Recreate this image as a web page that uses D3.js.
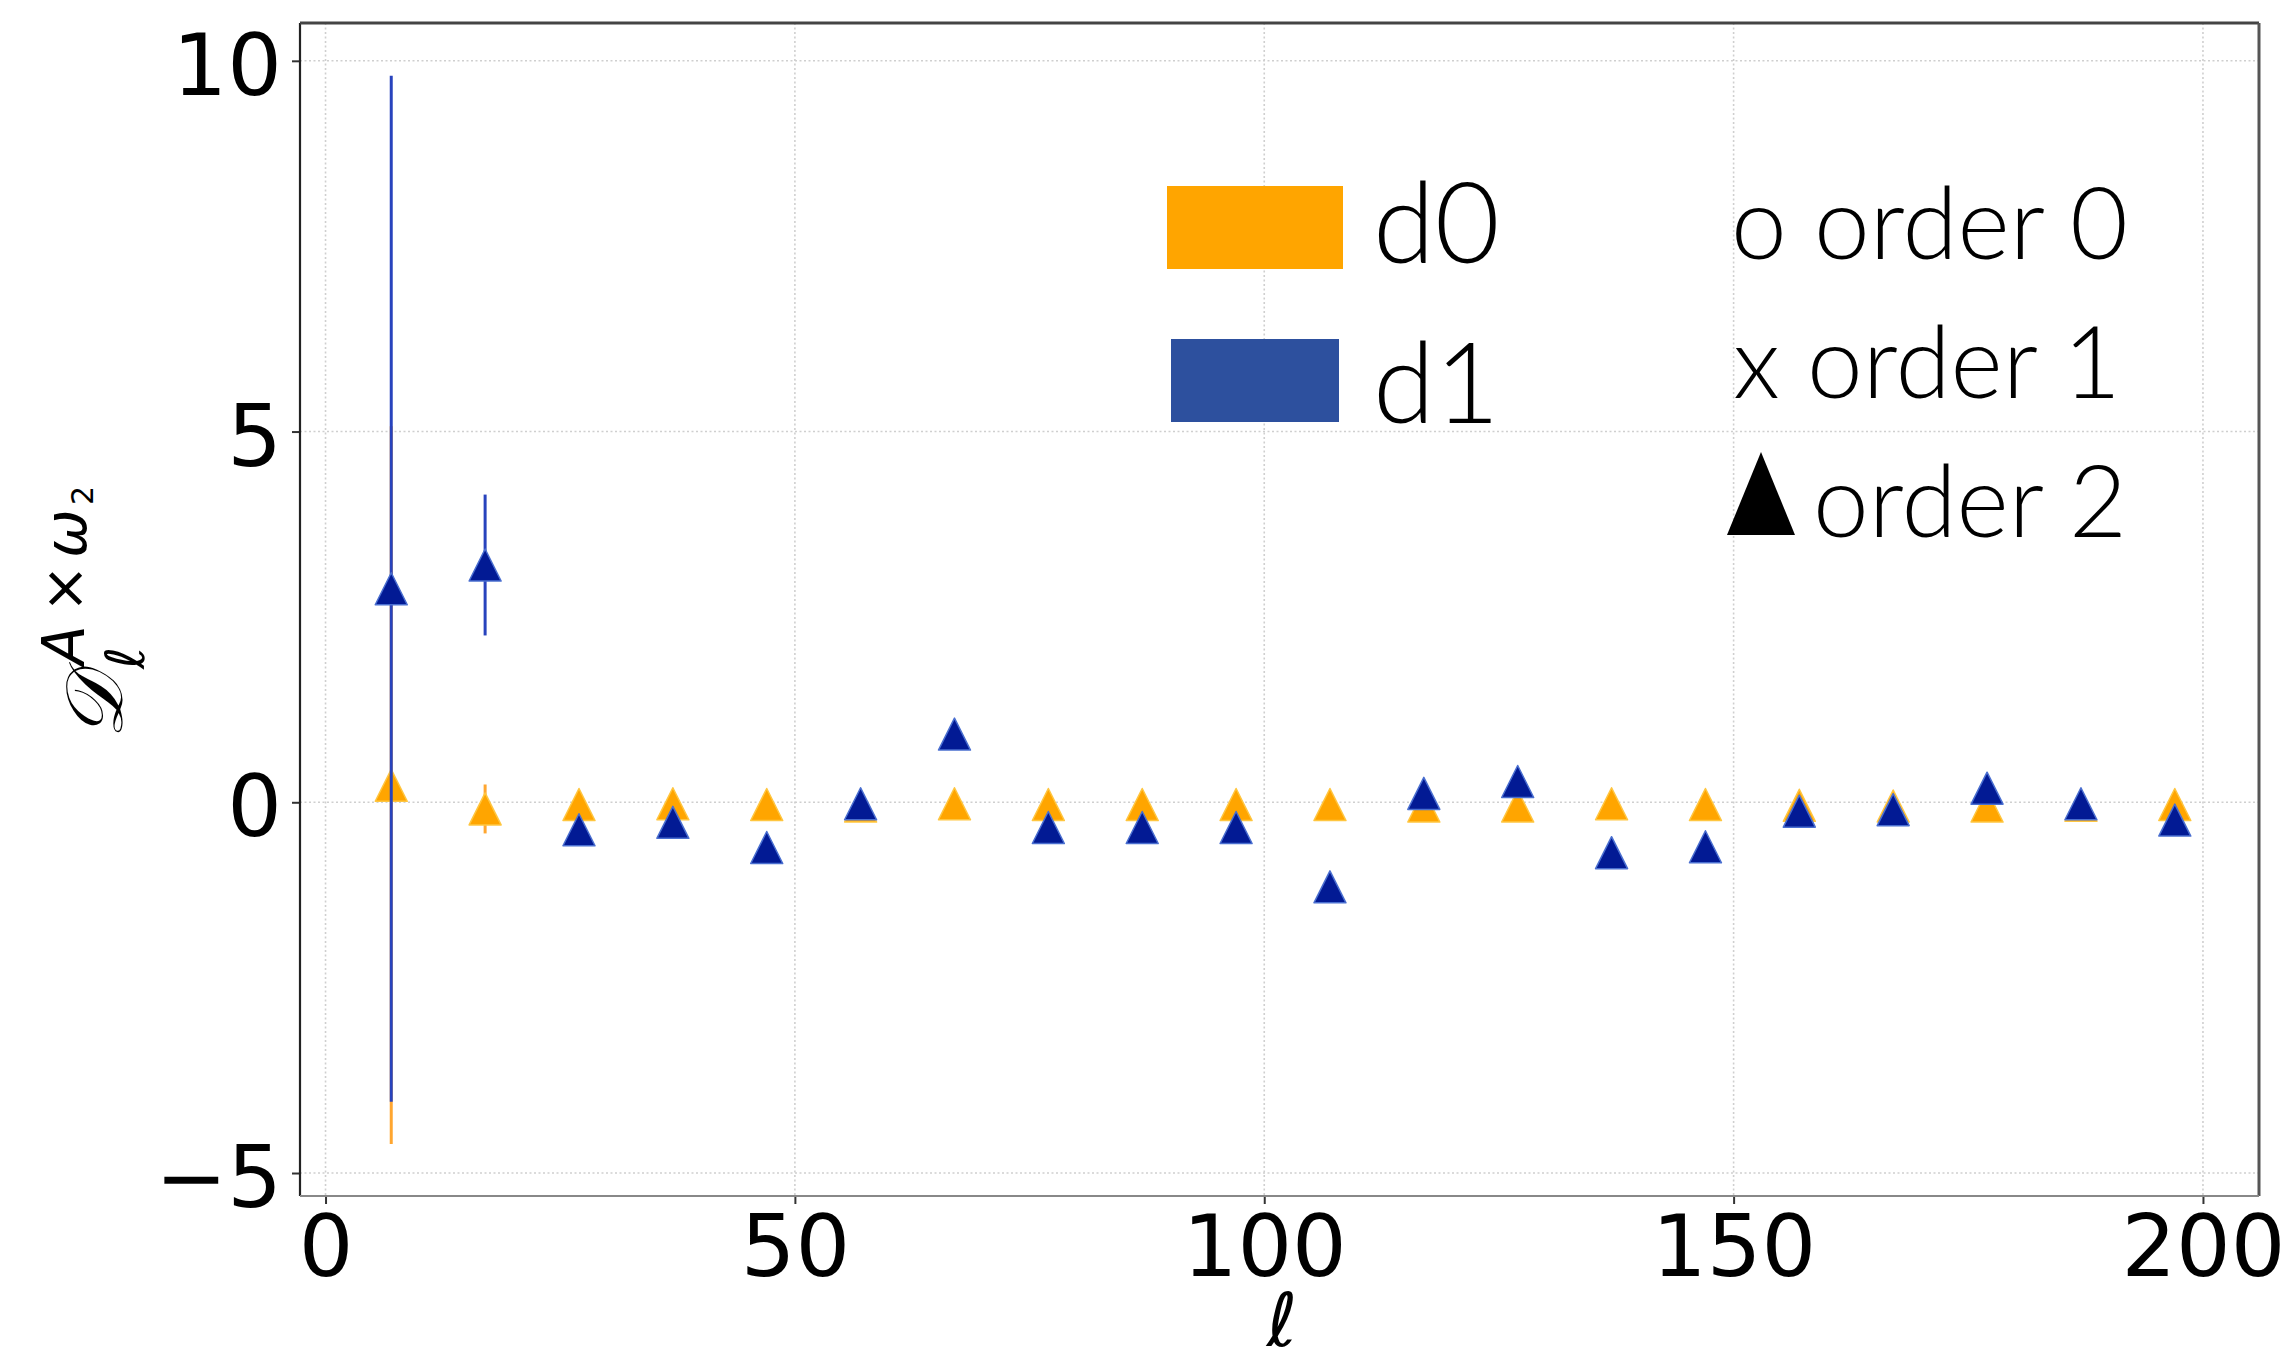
<!DOCTYPE html>
<html>
<head>
<meta charset="utf-8">
<script src="https://cdn.jsdelivr.net/npm/d3@7"></script>
<style>
  html, body { margin: 0; padding: 0; background: #ffffff; }
  svg { display: block; }
</style>
</head>
<body>
<svg id="chart" width="2291" height="1365"></svg>
<script>
// multipole bin centres
const ell = [7, 17, 27, 37, 47, 57, 67, 77, 87, 97, 107, 117, 127, 137, 147, 157, 167, 177, 187, 197];

// d0, order 2
const d0Vals = [0.23, -0.09, -0.03, -0.02, -0.03, -0.05, -0.02, -0.03, -0.03, -0.03,
                -0.03, -0.05, -0.05, -0.02, -0.03, -0.04, -0.05, -0.05, -0.04, -0.03];
const d0Err  = [4.84, 0.33, 0.05, 0.05, 0.05, 0.05, 0.05, 0.05, 0.05, 0.05,
                0.05, 0.05, 0.05, 0.05, 0.05, 0.05, 0.05, 0.05, 0.05, 0.05];

// d1, order 2
const d1Vals = [2.88, 3.20, -0.37, -0.27, -0.61, -0.02, 0.92, -0.34, -0.34, -0.34,
                -1.14, 0.12, 0.28, -0.68, -0.60, -0.12, -0.10, 0.19, -0.02, -0.24];
const d1Err  = [6.92, 0.95, 0.08, 0.08, 0.08, 0.08, 0.08, 0.08, 0.08, 0.08,
                0.08, 0.08, 0.08, 0.08, 0.08, 0.08, 0.08, 0.08, 0.08, 0.08];

const xTicks = [0, 50, 100, 150, 200];
const yTicks = [-5, 0, 5, 10];

const seriesNames = ["d0", "d1"];
const orderLabels = ["o order 0", "x order 1", "order 2"];

const svg = d3.select("#chart");

const frame = { left: 300, right: 2259, top: 23, bottom: 1196 };

const x = d3.scaleLinear().domain([-2.72, 205.97]).range([frame.left, frame.right]);
const y = d3.scaleLinear().domain([-5.31, 10.51]).range([frame.bottom, frame.top]);

const tickFont = "'DejaVu Sans', sans-serif";

// grid
const grid = svg.append("g").attr("class", "grid")
  .attr("stroke", "#cfcfcf").attr("stroke-width", 1.6).attr("stroke-dasharray", "2,2.5");
grid.selectAll("line.gx").data(xTicks).join("line").attr("class", "gx")
  .attr("x1", d => x(d)).attr("x2", d => x(d))
  .attr("y1", frame.top).attr("y2", frame.bottom);
grid.selectAll("line.gy").data(yTicks).join("line").attr("class", "gy")
  .attr("x1", frame.left).attr("x2", frame.right)
  .attr("y1", d => y(d)).attr("y2", d => y(d));

// axes
const xAxis = svg.append("g")
  .attr("transform", `translate(0,${frame.bottom})`)
  .call(d3.axisBottom(x).tickValues(xTicks).tickFormat(d3.format("d")).tickSize(8).tickPadding(11));
const yAxis = svg.append("g")
  .attr("transform", `translate(${frame.left},0)`)
  .call(d3.axisLeft(y).tickValues(yTicks).tickFormat(d => d < 0 ? "\u2212" + Math.abs(d) : d).tickSize(8).tickPadding(10));

[xAxis, yAxis].forEach(a => {
  a.select(".domain").remove();
  a.selectAll(".tick line").attr("stroke", "#333").attr("stroke-width", 2);
  a.selectAll(".tick text").attr("font-family", tickFont).attr("font-size", 86).attr("fill", "#000");
});
yAxis.selectAll(".tick text").attr("dy", "0.39em");

// frame
const fr = svg.append("g").attr("fill", "none");
fr.append("line").attr("x1", frame.left).attr("x2", frame.left).attr("y1", frame.top).attr("y2", frame.bottom)
  .attr("stroke", "#222").attr("stroke-width", 2.2);
fr.append("line").attr("x1", frame.left).attr("x2", frame.right).attr("y1", frame.top).attr("y2", frame.top)
  .attr("stroke", "#444").attr("stroke-width", 3);
fr.append("line").attr("x1", frame.right).attr("x2", frame.right).attr("y1", frame.top).attr("y2", frame.bottom)
  .attr("stroke", "#555").attr("stroke-width", 3);
fr.append("line").attr("x1", frame.left).attr("x2", frame.right).attr("y1", frame.bottom).attr("y2", frame.bottom)
  .attr("stroke", "#888").attr("stroke-width", 2);

// triangle marker (matplotlib-style '^': width equals height)
const half = 16;
const tri = (cx, cy) => `M${cx},${cy - half}L${cx + half},${cy + half}L${cx - half},${cy + half}Z`;

function drawSeries(vals, errs, fill, edge, barColor) {
  const data = ell.map((l, i) => ({ l, v: vals[i], e: errs[i] }));
  const g = svg.append("g");
  g.selectAll("line").data(data).join("line")
    .attr("x1", d => x(d.l)).attr("x2", d => x(d.l))
    .attr("y1", d => y(d.v - d.e)).attr("y2", d => y(d.v + d.e))
    .attr("stroke", barColor).attr("stroke-width", 3);
  g.selectAll("path").data(data).join("path")
    .attr("d", d => tri(x(d.l), y(d.v)))
    .attr("fill", fill).attr("stroke", edge).attr("stroke-width", 1.5).attr("stroke-linejoin", "round");
}
drawSeries(d0Vals, d0Err, "#ffa500", "#ffc640", "#ffa630");
drawSeries(d1Vals, d1Err, "#021a94", "#4a6fd0", "#2843bd");

// y axis label: D_ell^{A x omega_2}
const yl = svg.append("g").attr("transform", "translate(122,609) rotate(-90)").attr("fill", "#000");
yl.append("text").attr("x", -130).attr("y", 0)
  .attr("font-family", "'DejaVu Serif', serif").attr("font-style", "italic").attr("font-size", 80).text("\uD835\uDC9F");
yl.append("text").attr("x", -60).attr("y", 22)
  .attr("font-family", tickFont).attr("font-style", "italic").attr("font-size", 54).text("\u2113");
yl.append("text").attr("x", -56).attr("y", -38)
  .attr("font-family", tickFont).attr("font-style", "italic").attr("font-size", 58).text("A");
yl.append("text").attr("x", -4).attr("y", -38)
  .attr("font-family", tickFont).attr("font-size", 58).text("\u00D7");
yl.append("text").attr("x", 51).attr("y", -36)
  .attr("font-family", tickFont).attr("font-style", "italic").attr("font-size", 58).text("\u03C9");
yl.append("text").attr("x", 104).attr("y", -29)
  .attr("font-family", tickFont).attr("font-size", 30).text("2");

// x axis label
svg.append("text").attr("x", 1282).attr("y", 1346).attr("text-anchor", "middle")
  .attr("font-family", tickFont).attr("font-style", "italic").attr("font-size", 74).attr("fill", "#000")
  .text("\u2113");

// legend
const legFont = "Lato, 'Open Sans', sans-serif";
const leg = svg.append("g");
const patchColors = ["#ffa500", "#2d509e"];
const patchBoxes = [[1167, 186, 176, 83], [1171, 339, 168, 83]];
const nameBase = [263, 423];
seriesNames.forEach((n, i) => {
  const b = patchBoxes[i];
  leg.append("rect").attr("x", b[0]).attr("y", b[1]).attr("width", b[2]).attr("height", b[3]).attr("fill", patchColors[i]);
  leg.append("text").attr("x", 1373).attr("y", nameBase[i])
    .attr("font-family", legFont).attr("font-weight", 300).attr("font-size", 112).attr("fill", "#000").text(n);
});
const orderX = [1731, 1733, 1813];
const orderBase = [259, 398, 537];
orderLabels.forEach((t, i) => {
  leg.append("text").attr("x", orderX[i]).attr("y", orderBase[i])
    .attr("font-family", legFont).attr("font-weight", 300).attr("font-size", 100).attr("fill", "#000").text(t);
});
leg.append("path").attr("d", "M1761,452L1795,535L1727,535Z").attr("fill", "#000");
</script>
</body>
</html>
